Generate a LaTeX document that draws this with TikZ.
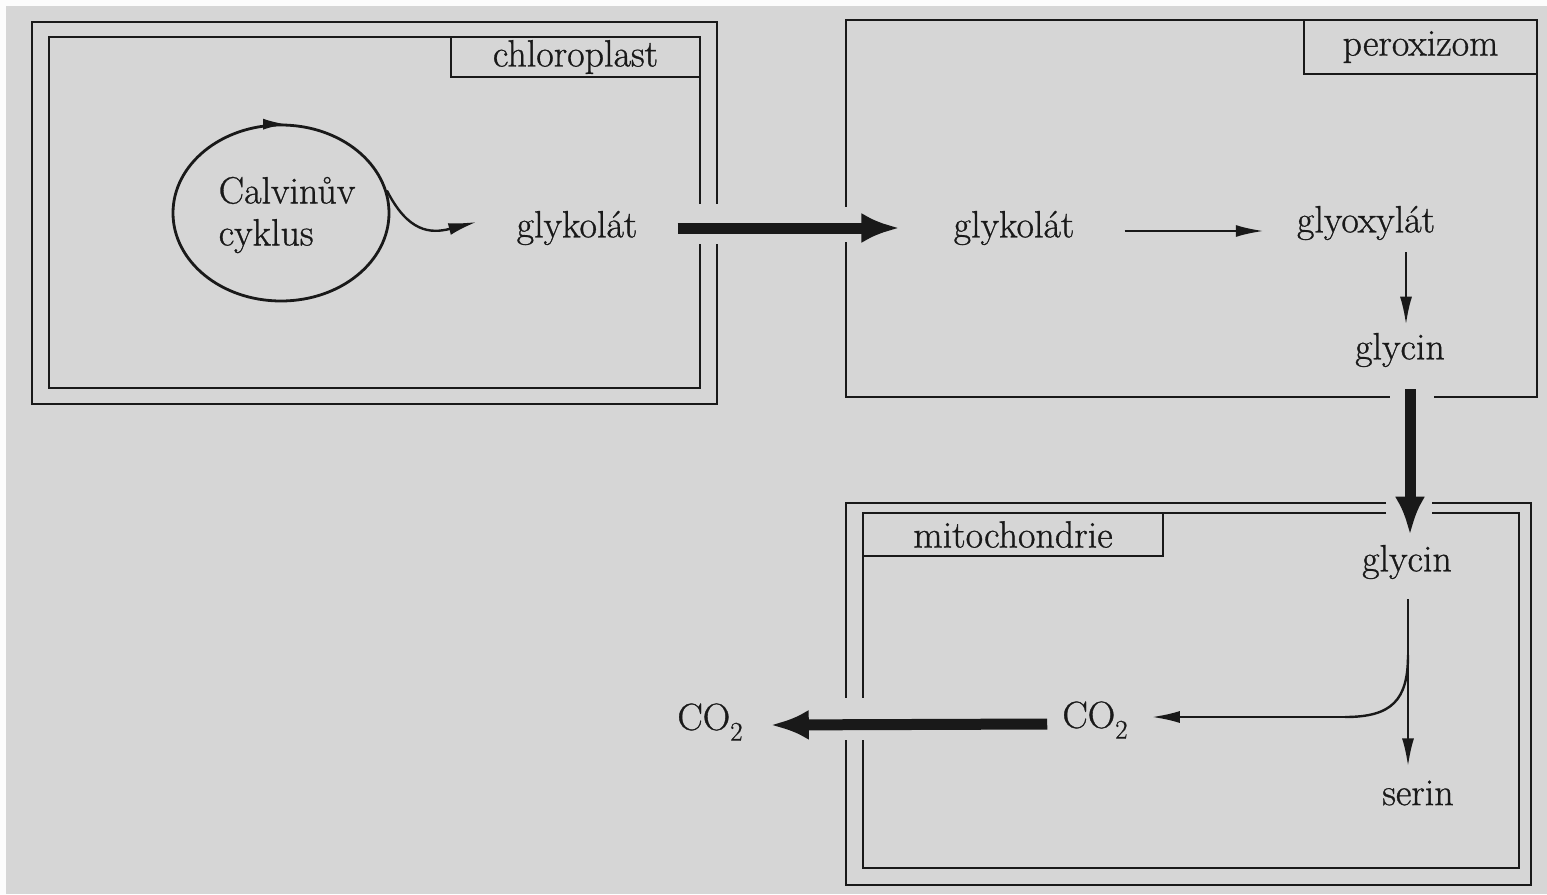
\documentclass[tikz,border=0pt]{standalone}
\usepackage{fontspec}
\newfontfamily\rmheavy{Latin Modern Roman}[FakeBold=0.8]
\usetikzlibrary{arrows.meta,shapes.geometric,calc}
\definecolor{bg}{RGB}{214,214,214}
\definecolor{ink}{RGB}{25,25,25}
\newcommand{\cotwo}{CO\raisebox{-0.28em}{\fontsize{27}{27}\selectfont 2}}
\begin{document}
\begin{tikzpicture}[x=1pt,y=-1pt,
  box/.style={draw=ink,line width=2.6pt,line join=miter},
  lbl/.style={draw=ink,line width=2.6pt,inner sep=0pt,font=\rmheavy\fontsize{38}{42}\selectfont,text=ink},
  txt/.style={inner sep=0pt,font=\rmheavy\fontsize{38}{42}\selectfont,text=ink},
  thin/.style={draw=ink,line width=2.4pt,-{Latex[length=28pt,width=12pt]}},
  thick/.style={draw=ink,line width=11pt,-{Latex[length=38pt,width=30pt]}}]
\useasboundingbox (0,0) rectangle (1547,894);
\fill[white!92!bg] (0,0) rectangle (1547,894);
\fill[bg] (6,6) rectangle (1547,894);
% chloroplast
\draw[box] (717,244) -- (717,404) -- (32,404) -- (32,22) -- (717,22) -- (717,204);
\draw[box] (700,244) -- (700,388) -- (49,388) -- (49,37) -- (700,37) -- (700,204);
\node[lbl,minimum width=249pt,minimum height=40pt] (lchl) at (575.5,57) {chloroplast};
% peroxizom
\draw[box] (846,242) -- (846,397) -- (1390,397);
\draw[box] (1434,397) -- (1537,397) -- (1537,20) -- (846,20) -- (846,207);
\node[lbl,minimum width=233pt,minimum height=54pt] (lper) at (1420.5,47) {peroxizom};
% mitochondrie
\draw[box] (846,740) -- (846,885) -- (1531,885) -- (1531,503) -- (1432,503);
\draw[box] (1386,503) -- (846,503) -- (846,698);
\draw[box] (863,740) -- (863,868) -- (1519,868) -- (1519,513) -- (1432,513);
\draw[box] (1386,513) -- (863,513) -- (863,698);
\node[lbl,minimum width=300pt,minimum height=43pt] (lmit) at (1013,534.5) {mitochondrie};
% Calvin cycle
\node[ellipse,draw=ink,line width=2.8pt,minimum width=216pt,minimum height=176pt,inner sep=0pt] (calvin) at (281,213) {};
\node[txt,align=left] (ctext) at (287,215) {Calvinův\\[0pt]cyklus};
\draw[ink,line width=1pt,-{Latex[length=22pt,width=11pt]}] (calvin.north) ++(-14,0.6) -- ++(18,0);
\node[txt] (g1) at (577,228) {glykolát};
\node[txt] (g2) at (1014,228) {glykolát};
\node[txt] (gx) at (1366,223) {glyoxylát};
\node[txt] (gc1) at (1400,350) {glycin};
\node[txt] (gc2) at (1407,562) {glycin};
\node[txt] (ser) at (1418,793) {serin};
\node[txt] (co2i) at (1095,720) {\cotwo};
\node[txt] (co2o) at (710,722) {\cotwo};
% connectors
\draw[thin] (calvin.12) .. controls (408,232) and (430,234) .. ([xshift=-40pt,yshift=6pt]g1.west);
\draw[thick] ([xshift=40pt]g1.east) -- ([xshift=-54pt]g2.west);
\draw[thin] ($(g2.east)+(50,3)$) -- ($(g2.east -| gx.west)+(-33,3)$);
\draw[thin] ($(gx.south -| 1406,0)+(0,12)$) -- ($(gc1.north -| 1406,0)+(0,-8)$);
\draw[thick] ($(gc1.south -| 1410,0)+(0,22)$) -- ($(gc2.north -| 1410,0)+(0,-10)$);
\draw[thin] ($(gc2.south -| 1408,0)+(0,20)$) -- ($(ser.north -| 1408,0)+(0,-14)$);
\draw[draw=ink,line width=2.4pt] (1408,655) .. controls (1408,700) and (1392,717) .. (1345,717);
\draw[thin] (1348,717) -- ($(co2i.east)+(24,-3)$);
\draw[thick] ($(co2i.west)+(-15,4)$) -- ($(co2o.east)+(28,3)$);
\end{tikzpicture}
\end{document}
